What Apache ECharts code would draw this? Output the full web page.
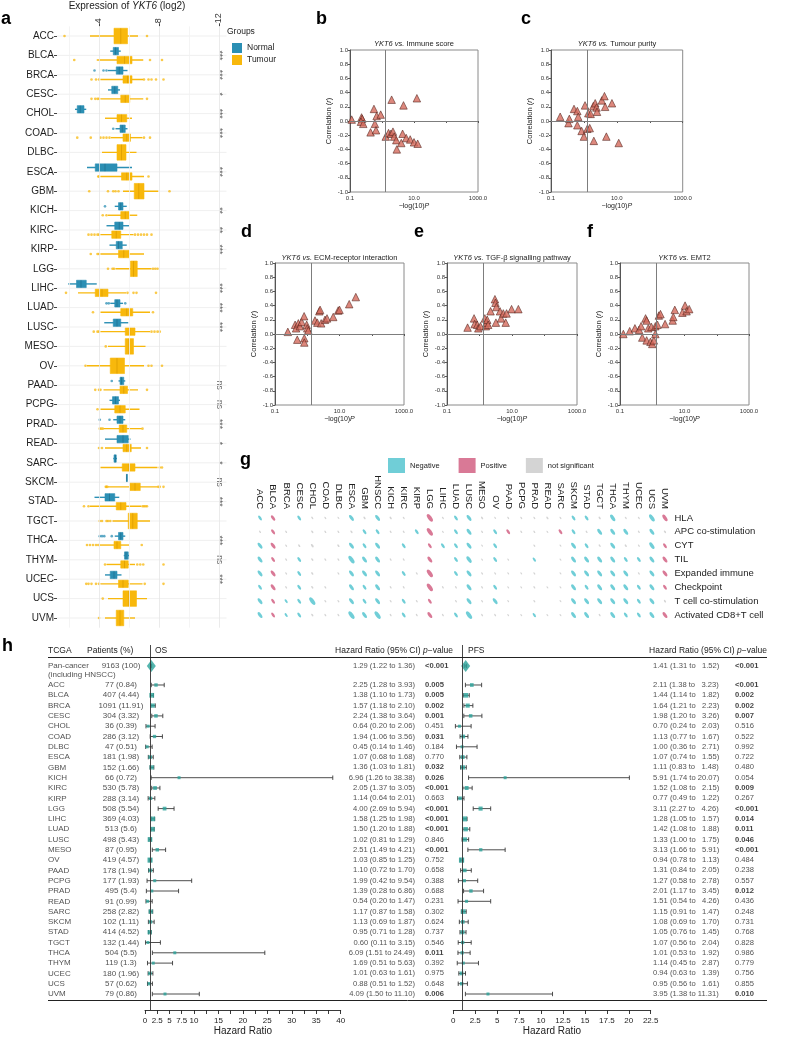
<!DOCTYPE html>
<html><head><meta charset="utf-8">
<script src="https://cdn.jsdelivr.net/npm/echarts@6/dist/echarts.min.js"></script>
<style>html,body{margin:0;padding:0;background:#fff}#c{width:800px;height:1037px}</style>
</head><body><div id="c"></div>
<script>
// ---------- Panel a : expression boxplots ----------
const aCats = ['ACC','BLCA','BRCA','CESC','CHOL','COAD','DLBC','ESCA','GBM','KICH','KIRC','KIRP','LGG','LIHC','LUAD','LUSC','MESO','OV','PAAD','PCPG','PRAD','READ','SARC','SKCM','STAD','TGCT','THCA','THYM','UCEC','UCS','UVM'];
const aNormal = [null,[4.75,4.95,5.1,5.3,5.45],[4.6,5.15,5.35,5.6,5.9],[4.6,4.85,5.05,5.25,5.4],[2.4,2.55,2.75,3.0,3.15],[5.1,5.4,5.55,5.75,5.9],null,[3.2,3.75,4.4,5.2,6.2],null,[5.05,5.3,5.45,5.6,5.85],[4.5,5.05,5.35,5.6,6.0],[4.7,5.15,5.3,5.55,5.85],null,[1.95,2.5,2.8,3.15,3.85],[4.75,5.05,5.2,5.4,5.6],[4.35,4.95,5.2,5.45,5.95],null,null,[5.3,5.4,5.5,5.65,5.75],[4.7,4.9,5.1,5.3,5.4],[4.95,5.2,5.4,5.6,5.75],[4.4,5.2,5.6,5.95,6.1],[4.95,5.0,5.1,5.15,5.2],[5.82,5.83,5.84,5.85,5.86],[3.7,4.4,4.7,5.05,5.35],null,[5.05,5.3,5.45,5.6,5.75],[5.65,5.7,5.8,5.95,6.0],[4.4,4.75,5.0,5.2,5.5],null,null];
const aNormalOut = [[],[],[3.7,4.3,4.5],[],[],[4.95],[],[],[],[4.4],[],[],[],[],[4.5,4.65,5.75],[],[],[],[4.85],[],[4.05,4.7],[],[],[],[],[],[4.05,4.2,4.35,4.85],[],[],[],[]];
const aTumour = [[3.4,5.0,5.45,5.9,6.6],[3.85,5.2,5.7,6.2,6.95],[4.1,5.6,5.9,6.2,6.95],[4.1,5.45,5.75,6.05,6.95],[4.4,5.2,5.5,5.85,6.2],[4.8,5.6,5.85,6.1,6.9],[4.2,5.2,5.5,5.8,6.5],[4.1,5.5,5.85,6.2,7.0],[5.6,6.35,6.65,7.0,7.95],[4.6,5.45,5.75,6.0,6.55],[4.1,4.85,5.15,5.45,6.3],[4.1,5.3,5.65,6.0,7.0],[5.1,6.1,6.3,6.55,7.5],[2.6,3.75,4.2,4.6,5.8],[4.1,5.45,5.85,6.25,7.4],[4.1,5.75,6.05,6.4,7.4],[4.6,5.75,6.0,6.3,7.1],[3.2,4.75,5.2,5.7,7.0],[4.3,5.4,5.65,5.9,6.6],[4.1,5.05,5.4,5.75,6.7],[4.3,5.35,5.6,5.85,6.85],[4.4,5.6,5.85,6.15,6.8],[4.1,5.55,6.0,6.4,7.9],[4.6,6.05,6.4,6.75,7.9],[3.4,5.15,5.45,5.8,6.8],[4.9,5.95,6.25,6.55,7.4],[4.05,5.0,5.2,5.45,6.0],[4.5,5.45,5.7,5.95,6.4],[4.1,5.3,5.6,5.95,6.9],[4.6,5.6,6.0,6.5,7.2],[4.4,5.15,5.4,5.65,6.4]];
const aTumourOut = [[1.7,7.2],[2.35,7.4,8.2],[3.5,3.8,4.0,7.0,7.3,7.5,7.8,8.3],[3.5,3.75,3.9,4.0,7.2],[],[2.55,3.45,4.1,4.3,4.5,4.7,7.0,7.4],[],[3.95,4.0,7.3],[3.35,4.6,4.95,5.1,5.3,8.7],[4.25,4.5],[3.3,3.5,3.7,3.9,4.0,6.4,6.6,6.8,7.0,7.2,7.5],[3.45,3.9,4.0],[4.6,4.9,5.0,7.6,7.75,7.9],[1.8,5.9,6.3,6.5,7.8],[3.6,7.6],[3.65,3.9,4.0,7.5,7.7,7.9,8.05],[4.45],[3.1,7.3,7.5,8.2],[3.75,4.0,4.1,7.2],[3.9],[4.05,4.15,4.25,6.9],[4.0,4.2,7.2],[8.05,8.2],[4.45,4.5,4.55,7.95,8.05,8.3],[3.0,3.3,6.9,7.0,7.1,7.2],[4.05,4.2,4.5,4.6,4.75],[3.2,3.4,3.6,3.8,3.95,6.85],[4.4,6.55,6.75,6.95,8.3],[3.15,3.3,3.5,3.8,4.0,7.05,8.3],[4.25],[4.0]];
const aSig = ['','***','***','*','***','***','','***','','**','**','***','','***','***','***','','','ns','ns','***','*','*','ns','***','','***','ns','***','',''];
const aTicks = [4, 8, 12];

// ---------- Panels b-f : correlation vs -log10 P ----------
const immuneScore = [[0.113,0.02],[0.23,0.05],[0.24,0.03],[0.22,-0.01],[0.26,-0.04],[0.44,-0.16],[0.56,0.17],[0.60,-0.04],[0.65,-0.13],[0.68,0.07],[0.91,0.09],[1.31,-0.22],[1.6,-0.17],[1.9,-0.18],[2.0,0.30],[2.2,-0.15],[2.4,-0.22],[2.8,-0.27],[2.9,-0.40],[4.0,-0.31],[4.4,-0.18],[4.7,0.22],[5.7,-0.24],[7.6,-0.26],[10,-0.30],[12.3,0.32],[13,-0.32]];
const tumourPurity = [[0.19,0.06],[0.34,-0.03],[0.36,0.03],[0.5,0.17],[0.63,0.14],[0.63,-0.06],[0.67,0.06],[0.85,-0.14],[1.0,-0.22],[1.08,0.22],[1.27,-0.11],[1.36,0.11],[1.5,-0.10],[1.6,0.10],[1.93,0.21],[2.0,-0.28],[2.2,0.25],[2.4,0.19],[2.5,0.13],[3.5,0.29],[4.2,0.35],[4.4,0.20],[4.8,-0.22],[7.1,0.25],[11.4,-0.31]];
const ecmReceptor = [[0.25,0.03],[0.42,0.13],[0.45,0.08],[0.49,-0.08],[0.53,0.15],[0.59,0.11],[0.67,0.17],[0.8,0.25],[0.81,-0.06],[0.81,-0.12],[0.96,0.13],[1.0,0.08],[1.08,0.05],[1.74,0.19],[2.05,0.16],[2.37,0.32],[2.5,0.34],[2.7,0.15],[3.55,0.20],[4.1,0.22],[6.4,0.24],[9.1,0.33],[10,0.34],[20,0.42],[32,0.52]];
const tgfBeta = [[0.43,0.09],[0.68,0.22],[0.71,0.14],[0.85,0.13],[0.92,0.08],[1.07,0.11],[1.46,0.22],[1.57,0.11],[1.65,0.16],[1.73,0.20],[1.85,0.13],[2.19,0.32],[2.98,0.49],[3.1,0.44],[3.3,0.38],[3.2,0.16],[4.27,0.32],[4.6,0.22],[5.4,0.29],[6.4,0.16],[6.8,0.29],[9.7,0.35],[15.7,0.35]];
const emt2 = [[0.127,0.0],[0.2,0.04],[0.29,0.08],[0.39,0.06],[0.45,0.11],[0.49,-0.05],[0.62,0.22],[0.67,0.19],[0.67,-0.09],[0.75,0.08],[0.88,-0.11],[0.94,0.10],[1.0,-0.14],[1.12,-0.09],[1.25,0.11],[1.25,0.0],[1.45,0.13],[1.6,0.26],[1.8,0.28],[2.5,0.14],[4.3,0.19],[4.5,0.24],[5.0,0.34],[8.6,0.30],[10.4,0.40],[11.6,0.32],[14,0.35]];
const pThresholdX = 1.3;

// ---------- Panel g : immune signature correlation ----------
const gCols = ['ACC','BLCA','BRCA','CESC','CHOL','COAD','DLBC','ESCA','GBM','HNSCC','KICH','KIRC','KIRP','LGG','LIHC','LUAD','LUSC','MESO','OV','PAAD','PCPG','PRAD','READ','SARC','SKCM','STAD','TGCT','THCA','THYM','UCEC','UCS','UVM'];
const gRows = ['HLA','APC co-stimulation','CYT','TIL','Expanded immune','Checkpoint','T cell co-stimulation','Activated CD8+T cell'];
const gR = [
 [-0.2,0.25,0,-0.2,0.1,0.08,0.06,-0.3,0.12,-0.3,0.12,0.08,0,0.45,0.08,-0.2,-0.3,0.12,0.06,0.08,0.08,0.08,0.12,0.08,-0.2,-0.2,0.12,-0.35,0.08,0.08,-0.4,0.35],
 [0.08,0.22,0.08,0,0.12,0.08,0.08,0.12,-0.2,-0.2,0.08,0.08,-0.2,0.45,0.06,-0.2,-0.3,0.08,-0.2,0.2,0.08,0.08,0.06,0.2,-0.2,0.08,-0.3,-0.3,-0.3,0.08,-0.3,0.12],
 [-0.3,0.3,0.08,0.12,0.2,0,0.12,-0.3,-0.2,-0.3,0,-0.2,0,0.2,-0.2,-0.2,-0.3,0.06,-0.2,0,0,0.08,0,0.06,-0.3,-0.2,0.1,-0.3,0.12,0.08,-0.35,0.2],
 [-0.3,0.2,0.08,-0.2,0.12,0.08,0.08,-0.45,-0.3,-0.3,0.08,0.08,0,0.3,0,-0.2,-0.35,0.06,-0.2,0.06,0,-0.15,0,0.06,-0.3,-0.3,-0.3,-0.3,-0.2,-0.2,-0.3,0.3],
 [-0.3,0.3,0.08,-0.2,0.12,0,0.08,-0.3,-0.3,-0.3,0,-0.2,0.08,0.45,0,-0.2,-0.3,0.08,0.08,0.06,0.06,0.08,0,0.06,-0.3,-0.3,-0.3,-0.3,-0.3,0.08,-0.3,0.3],
 [-0.2,0.3,0.08,-0.2,0.12,0.08,0,-0.3,-0.2,-0.3,0.08,0.08,0,0.45,0.08,0.08,-0.3,0.08,-0.2,0.06,0.06,0.08,0.06,0.06,-0.3,-0.2,-0.3,-0.3,-0.3,-0.2,-0.3,0.2],
 [-0.3,0.2,-0.12,-0.2,-0.45,0.08,0.08,-0.3,-0.2,-0.3,0.08,-0.2,0.08,0.2,0,0.08,-0.3,0.08,-0.3,0.06,0,0.08,0,0.06,-0.3,-0.3,-0.3,-0.3,-0.3,-0.2,-0.3,0.12],
 [-0.3,0.2,-0.12,-0.2,0.12,0.08,0.08,-0.45,-0.3,-0.45,0.08,-0.2,0.08,0.3,0.08,-0.2,-0.45,0.08,0.08,0.06,0.06,-0.15,0.06,0.06,-0.3,-0.3,0.08,-0.3,-0.2,-0.2,-0.3,0.3]
];
const gSig = [
 [1,1,0,1,0,0,0,1,0,1,0,0,0,1,0,1,1,0,0,0,0,0,0,0,1,1,0,1,0,0,1,1],
 [0,1,0,0,0,0,0,0,1,1,0,0,1,1,0,1,1,0,1,1,0,0,0,1,1,0,1,1,1,0,1,0],
 [1,1,0,0,0,0,0,1,1,1,0,1,0,1,1,1,1,0,1,0,0,0,0,0,1,1,0,1,0,0,1,1],
 [1,1,0,1,0,0,0,1,1,1,0,0,0,1,0,1,1,0,1,0,0,1,0,0,1,1,1,1,1,1,1,1],
 [1,1,0,1,0,0,0,1,1,1,0,1,0,1,0,1,1,0,0,0,0,0,0,0,1,1,1,1,1,0,1,1],
 [1,1,0,1,0,0,0,1,1,1,0,0,0,1,0,0,1,0,1,0,0,0,0,0,1,1,1,1,1,1,1,1],
 [1,1,1,1,1,0,0,1,1,1,0,1,0,1,0,0,1,0,1,0,0,0,0,0,1,1,1,1,1,1,1,0],
 [1,1,1,1,0,0,0,1,1,1,0,1,0,1,0,1,1,0,0,0,0,1,0,0,1,1,0,1,1,1,1,1]
];

// ---------- Panel h : forest plots ----------
const hPatients = [77,407,1091,304,36,286,47,181,152,66,530,288,508,369,513,498,87,419,178,177,495,91,258,102,414,132,504,119,180,57,79];
const hPct = [0.84,4.44,11.91,3.32,0.39,3.12,0.51,1.98,1.66,0.72,5.78,3.14,5.54,4.03,5.6,5.43,0.95,4.57,1.94,1.93,5.4,0.99,2.82,1.11,4.52,1.44,5.5,1.3,1.96,0.62,0.86];
const osHR = [2.25,1.38,1.57,2.24,0.64,1.94,0.45,1.07,1.36,6.96,2.05,1.14,4.00,1.58,1.50,1.02,2.51,1.03,1.10,1.99,1.39,0.54,1.17,1.13,0.95,0.60,6.09,1.69,1.01,0.88,4.09];
const osLo = [1.28,1.10,1.18,1.38,0.20,1.06,0.14,0.68,1.03,1.26,1.37,0.64,2.69,1.25,1.20,0.81,1.49,0.85,0.72,0.42,0.28,0.20,0.87,0.69,0.71,0.11,1.51,0.51,0.63,0.51,1.50];
const osHi = [3.93,1.73,2.10,3.64,2.06,3.56,1.46,1.68,1.81,38.38,3.05,2.01,5.94,1.98,1.88,1.29,4.21,1.25,1.70,9.54,6.86,1.47,1.58,1.87,1.28,3.15,24.49,5.63,1.61,1.52,11.10];
const osP = [0.005,0.005,0.002,0.001,0.451,0.031,0.184,0.770,0.032,0.026,0.0005,0.663,0.0005,0.0005,0.0005,0.846,0.0005,0.752,0.658,0.388,0.688,0.231,0.302,0.624,0.737,0.546,0.011,0.392,0.975,0.648,0.006];
const pfsHR = [2.11,1.44,1.64,1.98,0.70,1.13,1.00,1.07,1.11,5.91,1.52,0.77,3.11,1.28,1.42,1.33,3.13,0.94,1.31,1.27,2.01,1.51,1.15,1.08,1.05,1.07,1.01,1.14,0.94,0.95,3.95];
const pfsLo = [1.38,1.14,1.21,1.20,0.24,0.77,0.36,0.74,0.83,1.74,1.08,0.49,2.27,1.05,1.08,1.00,1.66,0.78,0.84,0.58,1.17,0.54,0.91,0.69,0.76,0.56,0.53,0.45,0.63,0.56,1.38];
const pfsHi = [3.23,1.82,2.23,3.26,2.03,1.67,2.71,1.55,1.48,20.07,2.15,1.22,4.26,1.57,1.88,1.75,5.91,1.13,2.05,2.78,3.45,4.26,1.47,1.70,1.45,2.04,1.92,2.87,1.39,1.61,11.31];
const pfsP = [0.0005,0.002,0.002,0.007,0.516,0.522,0.992,0.722,0.480,0.054,0.009,0.267,0.0005,0.014,0.011,0.046,0.0005,0.484,0.238,0.557,0.012,0.436,0.248,0.731,0.768,0.828,0.986,0.779,0.756,0.855,0.010];
const panPatients = 9163, panPct = 100;
const panOS = [1.29, 1.22, 1.36], panOSP = 0.0005;
const panPFS = [1.41, 1.31, 1.52], panPFSP = 0.0005;

// ---------- rendering ----------
const FONT = 'Liberation Sans';
const TEAL = '#2B8FB4', TEAL_D = '#1E6F8E', YEL = '#F8B80C', YEL_D = '#D99A00';
const NEG = '#4CC2CD', POS = '#CF587C', NS = '#C9C9C9';
const FOREST = '#2BA39A';
const chart = echarts.init(document.getElementById('c'), null, {renderer: 'canvas'});

function txt(x, y, text, size, extra) {
  return {type: 'text', x: x, y: y, silent: true, z: 50, style: Object.assign({
    text: text, fontSize: size, fontFamily: FONT, fill: '#222', align: 'left', verticalAlign: 'middle',
    textAlign: 'left', textVerticalAlign: 'middle',
    rich: {i: {fontStyle: 'italic', fontSize: size, fontFamily: FONT, fill: '#222'},
           n: {fontSize: size, fontFamily: FONT, fill: '#222'}}
  }, extra || {})};
}
function letter(x, y, t) { return txt(x, y, t, 18, {fontWeight: 'bold', fill: '#000'}); }

function boxRender(kind) {
  return function (params, api) {
    const i = api.value(0);
    const paired = aNormal[i] != null;
    const band = api.size([0, 1])[1];
    const off = paired ? (kind === 'N' ? -0.22 : 0.24) * band : 0;
    const h = paired ? 0.38 * band : 0.8 * band;
    const yc = api.coord([5, i])[1] + off;
    const px = v => api.coord([v, i])[0];
    const lo = px(api.value(1)), q1 = px(api.value(2)), md = px(api.value(3)), q3 = px(api.value(4)), hi = px(api.value(5));
    const col = kind === 'N' ? TEAL : YEL, dcol = kind === 'N' ? TEAL_D : YEL_D;
    const outs = (kind === 'N' ? aNormalOut : aTumourOut)[i];
    const ch = [
      {type: 'line', shape: {x1: lo, y1: yc, x2: hi, y2: yc}, style: {stroke: col, lineWidth: 1.4}},
      {type: 'rect', shape: {x: q1, y: yc - h / 2, width: Math.max(q3 - q1, 1), height: h}, style: {fill: col, stroke: col, lineWidth: 0.6}},
      {type: 'line', shape: {x1: md, y1: yc - h / 2, x2: md, y2: yc + h / 2}, style: {stroke: dcol, lineWidth: 0.7}}
    ];
    outs.forEach(v => ch.push({type: 'circle', shape: {cx: px(v), cy: yc, r: 1.3}, style: {fill: col, opacity: 0.75}}));
    return {type: 'group', children: ch};
  };
}

function scX(gi) {
  return {type: 'log', gridIndex: gi, logBase: 10, min: 0.1, max: 1000,
    axisLine: {show: true, lineStyle: {color: '#555', width: 1}},
    axisTick: {show: true, length: 2, lineStyle: {color: '#555'}},
    axisLabel: {fontSize: 6, color: '#333', margin: 3, fontFamily: FONT,
      formatter: v => { const e = Math.round(Math.log10(v)); return (e === -1 || e === 1 || e === 3) ? v.toFixed(1) : ''; }},
    splitLine: {show: false},
    name: '−log(10){i|P}', nameLocation: 'middle', nameGap: 11,
    nameTextStyle: {fontSize: 7, color: '#222', fontFamily: FONT, rich: {i: {fontStyle: 'italic', fontSize: 7, color: '#222', fontFamily: FONT}}}};
}
function scY(gi) {
  return {type: 'value', gridIndex: gi, min: -1, max: 1, interval: 0.2,
    axisLine: {show: true, lineStyle: {color: '#555', width: 1}},
    axisTick: {show: true, length: 2, lineStyle: {color: '#555'}},
    axisLabel: {fontSize: 6, color: '#333', margin: 2, fontFamily: FONT, formatter: v => (Math.abs(v) < 1e-9 ? 0 : v).toFixed(1)},
    splitLine: {show: false},
    name: 'Correlation ({i|r})', nameLocation: 'middle', nameGap: 17, nameRotate: 90,
    nameTextStyle: {fontSize: 7.5, color: '#222', fontFamily: FONT, rich: {i: {fontStyle: 'italic', fontSize: 7.5, color: '#222', fontFamily: FONT}}}};
}
function scSeries(gi, data) {
  return {type: 'scatter', xAxisIndex: gi, yAxisIndex: gi, data: data, symbol: 'triangle', symbolSize: 7.5, z: 3,
    itemStyle: {color: '#D56A5C', borderColor: '#4f2019', borderWidth: 0.7},
    markLine: {silent: true, symbol: 'none', label: {show: false}, animation: false,
      lineStyle: {color: '#7d7d7d', width: 1, type: 'solid'},
      data: [{xAxis: pThresholdX}, {yAxis: 0}]}};
}

// panel g data split
const gNeg = [], gPos = [], gNs = [];
gR.forEach((row, ri) => row.forEach((r, ci) => {
  if (r === 0) return;
  const item = [ci, ri, r];
  if (gSig[ri][ci]) (r < 0 ? gNeg : gPos).push(item); else gNs.push(item);
}));
const ELL = 'path://M0,50 A50,50 0 1,1 100,50 A50,50 0 1,1 0,50 Z';
const sigSize = v => { const a = Math.abs(v[2]); return [1.3 + 6 * a, 3 + 13 * a]; };
const nsSize = v => { const a = Math.abs(v[2]); return [1 + 5 * a, 2 + 10 * a]; };
function gSeries(name, data, color, sizeFn) {
  return {type: 'scatter', name: name, xAxisIndex: 6, yAxisIndex: 6, data: data, symbol: ELL,
    symbolSize: sizeFn, symbolRotate: 35, itemStyle: {color: color}};
}

// panel h helpers
const fmt2 = v => v.toFixed(2);
const pText = p => { const s = p < 0.001 ? '<0.001' : p.toFixed(3); return p < 0.05 ? '{b|' + s + '}' : s; };
const osHRText = (h, l, u) => `${fmt2(h)} (${fmt2(l)} to ${fmt2(u)})`;
const pfsHRText = (h, l, u) => `${fmt2(h)} (${fmt2(l)} to ${u < 10 ? '  ' : ''}${fmt2(u)})`;
const PAN_ROW = -1.85, PAN_ROW2 = -0.95;
const H_YMIN = -3.883, H_YMAX = 31.553;
function textSeries(x, items, align, size) {
  const pos = align === 'left' ? 'right' : (align === 'right' ? 'left' : 'inside');
  return {type: 'scatter', xAxisIndex: 7, yAxisIndex: 7, symbolSize: 0, silent: true, z: 5,
    data: items.map(it => ({name: it[1], value: [x, it[0]]})),
    itemStyle: {color: 'rgba(0,0,0,0)'},
    label: {show: true, position: pos, distance: 0, formatter: p => p.name, fontSize: size, fontFamily: FONT, color: '#1e1e1e',
      rich: {b: {fontWeight: 'bold', fontSize: size, fontFamily: FONT, color: '#111'}}},
    labelLayout: {hideOverlap: false}};
}
const rowsIdx = aCats.map((c, i) => i);
const ciSize = (l, u) => Math.max(3, Math.min(6.5, 2.5 + 1.0 / Math.log(u / l)));
function ciRender(params, api) {
  const a = api.coord([api.value(0), api.value(2)]);
  const b = api.coord([api.value(1), api.value(2)]);
  const st = {stroke: '#3a3a3a', lineWidth: 0.9};
  return {type: 'group', children: [
    {type: 'line', shape: {x1: a[0], y1: a[1], x2: b[0], y2: b[1]}, style: st},
    {type: 'line', shape: {x1: a[0], y1: a[1] - 2.2, x2: a[0], y2: a[1] + 2.2}, style: st},
    {type: 'line', shape: {x1: b[0], y1: b[1] - 2.2, x2: b[0], y2: b[1] + 2.2}, style: st}
  ]};
}
function forestX(gi, max, labelFn) {
  return {type: 'value', gridIndex: gi, min: 0, max: max, interval: 2.5,
    axisLine: {show: true, onZero: false, lineStyle: {color: '#222', width: 0.9}},
    axisTick: {show: true, length: 4, lineStyle: {color: '#222', width: 0.9}},
    axisLabel: {fontSize: 8, color: '#222', margin: 7, fontFamily: FONT, formatter: labelFn, hideOverlap: false},
    splitLine: {show: false},
    name: 'Hazard Ratio', nameLocation: 'middle', nameGap: 16, nameTextStyle: {fontSize: 10, color: '#222', fontFamily: FONT}};
}
const hY = gi => ({type: 'value', gridIndex: gi, min: H_YMIN, max: H_YMAX, inverse: true, show: false});
function forestSeries(gi, hr, lo, hi, pan) {
  return [
    {type: 'custom', xAxisIndex: gi, yAxisIndex: gi, renderItem: ciRender, z: 3, silent: true,
      encode: {x: [0, 1], y: 2},
      data: rowsIdx.map(i => [lo[i], hi[i], i]).concat([[pan[1], pan[2], PAN_ROW]])},
    {type: 'scatter', xAxisIndex: gi, yAxisIndex: gi, z: 4, silent: true, symbol: 'rect',
      itemStyle: {color: FOREST},
      data: rowsIdx.map(i => ({value: [hr[i], i], symbolSize: ciSize(lo[i], hi[i])})),
      markLine: {silent: true, symbol: 'none', label: {show: false}, animation: false,
        lineStyle: {color: '#333', width: 0.9, type: 'solid'}, data: [{xAxis: 1}]}},
    {type: 'scatter', xAxisIndex: gi, yAxisIndex: gi, z: 4, silent: true, symbol: 'diamond', symbolSize: [9, 12],
      itemStyle: {color: FOREST}, data: [[pan[0], PAN_ROW]]}
  ];
}

const option = {
  animation: false,
  backgroundColor: '#fff',
  textStyle: {fontFamily: FONT},
  grid: [
    {left: 57, right: 573.5, top: 26.3, bottom: 409.3, outerBoundsMode: 'none'},
    {left: 350, right: 322, top: 50, bottom: 845, show: true, borderColor: '#8a8a8a', borderWidth: 1, outerBoundsMode: 'none'},
    {left: 551, right: 117.3, top: 50, bottom: 845, show: true, borderColor: '#8a8a8a', borderWidth: 1, outerBoundsMode: 'none'},
    {left: 275, right: 396, top: 263, bottom: 632, show: true, borderColor: '#8a8a8a', borderWidth: 1, outerBoundsMode: 'none'},
    {left: 447, right: 223, top: 263, bottom: 632, show: true, borderColor: '#8a8a8a', borderWidth: 1, outerBoundsMode: 'none'},
    {left: 620, right: 51, top: 263, bottom: 632, show: true, borderColor: '#8a8a8a', borderWidth: 1, outerBoundsMode: 'none'},
    {left: 253.5, right: 128.5, top: 511, bottom: 415, outerBoundsMode: 'none'},
    {left: 0, right: 0, top: 645, bottom: 27, outerBoundsMode: 'none'},
    {left: 145, right: 459.3, top: 645, bottom: 27, outerBoundsMode: 'none'},
    {left: 453.3, right: 149.3, top: 645, bottom: 27, outerBoundsMode: 'none'}
  ],
  xAxis: [
    {type: 'value', gridIndex: 0, position: 'top', min: 1.2, max: 12.5,
      axisLine: {show: false}, splitLine: {show: false},
      axisTick: {show: true, length: 3, customValues: aTicks, lineStyle: {color: '#444'}},
      axisLabel: {customValues: aTicks, rotate: -90, fontSize: 9, margin: 3, color: '#333', fontFamily: FONT,
        formatter: v => aTicks.indexOf(v) >= 0 ? String(v) : ''}},
    scX(1), scX(2), scX(3), scX(4), scX(5),
    {type: 'category', gridIndex: 6, position: 'top', data: gCols,
      axisLine: {show: false}, axisTick: {show: false},
      axisLabel: {rotate: 90, fontSize: 9.5, margin: 2, interval: 0, color: '#222', fontFamily: FONT}},
    {type: 'value', gridIndex: 7, min: 0, max: 800, show: false},
    forestX(8, 40, v => (v <= 10 || Math.abs(v % 5) < 1e-9) ? String(v) : ''),
    forestX(9, 22.5, v => String(v))
  ],
  yAxis: [
    {type: 'category', gridIndex: 0, data: aCats, inverse: true,
      axisLine: {show: false}, axisTick: {show: true, length: 3, alignWithLabel: true, lineStyle: {color: '#444'}},
      axisLabel: {fontSize: 10, color: '#1e1e1e', margin: 3, interval: 0, fontFamily: FONT}, splitLine: {show: false}},
    scY(1), scY(2), scY(3), scY(4), scY(5),
    {type: 'category', gridIndex: 6, data: gRows, inverse: true, position: 'right',
      axisLine: {show: false}, axisTick: {show: false},
      axisLabel: {fontSize: 9.5, margin: 3, interval: 0, color: '#222', fontFamily: FONT}},
    hY(7), hY(8), hY(9)
  ],
  legend: [
    {data: ['Normal', 'Tumour'], left: 227, top: 38, orient: 'vertical', icon: 'rect',
      itemWidth: 10, itemHeight: 10, itemGap: 2, selectedMode: false,
      textStyle: {fontSize: 8.5, color: '#222', fontFamily: FONT}},
    {data: ['Negative', 'Positive', 'not significant'], left: 383, top: 453, orient: 'horizontal', icon: 'rect',
      itemWidth: 17, itemHeight: 15, itemGap: 19, selectedMode: false,
      textStyle: {fontSize: 7.5, color: '#222', fontFamily: FONT}}
  ],
  series: [
    // panel a gridlines
    {type: 'custom', xAxisIndex: 0, yAxisIndex: 0, silent: true, z: 1,
      encode: {x: 1, y: 0}, data: rowsIdx.map(i => [i, 5]),
      renderItem: (params, api) => {
        const y = api.coord([5, api.value(0)])[1];
        const cs = params.coordSys;
        return {type: 'line', shape: {x1: cs.x, y1: y, x2: cs.x + cs.width, y2: y}, style: {stroke: '#EBEBEB', lineWidth: 0.8}};
      },
      markLine: {silent: true, symbol: 'none', label: {show: false}, animation: false,
        data: [2, 4, 6, 8, 10, 12].map(v => ({xAxis: v, lineStyle: {color: v % 4 === 0 ? '#E6E6E6' : '#F1F1F1', width: 0.8, type: 'solid'}}))}},
    {type: 'custom', name: 'Normal', xAxisIndex: 0, yAxisIndex: 0, z: 3, itemStyle: {color: TEAL},
      encode: {x: [1, 2, 3, 4, 5], y: 0}, renderItem: boxRender('N'),
      data: rowsIdx.filter(i => aNormal[i]).map(i => [i].concat(aNormal[i]))},
    {type: 'custom', name: 'Tumour', xAxisIndex: 0, yAxisIndex: 0, z: 3, itemStyle: {color: YEL},
      encode: {x: [1, 2, 3, 4, 5], y: 0}, renderItem: boxRender('T'),
      data: rowsIdx.map(i => [i].concat(aTumour[i]))},
    {type: 'scatter', xAxisIndex: 0, yAxisIndex: 0, symbolSize: 0, silent: true, z: 4,
      data: rowsIdx.filter(i => aSig[i]).map(i => ({name: aSig[i], value: [12, i]})),
      label: {show: true, position: 'inside', rotate: -90, formatter: p => p.name, fontSize: 8.5, color: '#333', fontFamily: FONT}},
    // panels b-f
    scSeries(1, immuneScore), scSeries(2, tumourPurity), scSeries(3, ecmReceptor), scSeries(4, tgfBeta), scSeries(5, emt2),
    // panel g
    gSeries('Negative', gNeg, NEG, sigSize),
    gSeries('Positive', gPos, POS, sigSize),
    gSeries('not significant', gNs, NS, nsSize),
    // panel h text
    textSeries(48, rowsIdx.map(i => [i, aCats[i]]).concat([[PAN_ROW, 'Pan-cancer'], [PAN_ROW2, '(including HNSCC)']]), 'left', 8),
    textSeries(121, rowsIdx.map(i => [i, `${hPatients[i]} (${hPct[i]})`]).concat([[PAN_ROW, `${panPatients} (${panPct})`]]), 'center', 8),
    textSeries(415, rowsIdx.map(i => [i, osHRText(osHR[i], osLo[i], osHi[i])]).concat([[PAN_ROW, osHRText(panOS[0], panOS[1], panOS[2])]]), 'right', 7.6),
    textSeries(425, rowsIdx.map(i => [i, pText(osP[i])]).concat([[PAN_ROW, pText(panOSP)]]), 'left', 7.6),
    textSeries(653, rowsIdx.map(i => [i, pfsHRText(pfsHR[i], pfsLo[i], pfsHi[i])]).concat([[PAN_ROW, pfsHRText(panPFS[0], panPFS[1], panPFS[2])]]), 'left', 7.6),
    textSeries(735, rowsIdx.map(i => [i, pText(pfsP[i])]).concat([[PAN_ROW, pText(panPFSP)]]), 'left', 7.6)
  ].concat(forestSeries(8, osHR, osLo, osHi, panOS), forestSeries(9, pfsHR, pfsLo, pfsHi, panPFS)),
  graphic: [
    letter(1, 19, 'a'), letter(316, 19, 'b'), letter(521, 19, 'c'),
    letter(241, 232, 'd'), letter(414, 232, 'e'), letter(587, 232, 'f'),
    letter(240, 460, 'g'), letter(2, 646, 'h'),
    txt(127, 6, 'Expression of {i|YKT6} (log2)', 10, {align: 'center', textAlign: 'center'}),
    txt(227, 32, 'Groups', 8.5),
    txt(414, 44, '{i|YKT6 vs.} Immune score', 7.5, {align: 'center', textAlign: 'center'}),
    txt(617, 44, '{i|YKT6 vs.} Tumour purity', 7.5, {align: 'center', textAlign: 'center'}),
    txt(339.5, 258, '{i|YKT6 vs.} ECM-receptor interaction', 7.5, {align: 'center', textAlign: 'center'}),
    txt(512, 258, '{i|YKT6 vs.} TGF-β signalling pathway', 7.5, {align: 'center', textAlign: 'center'}),
    txt(684.5, 258, '{i|YKT6 vs.} EMT2', 7.5, {align: 'center', textAlign: 'center'}),
    txt(48, 651, 'TCGA', 8.5), txt(87, 651, 'Patients (%)', 8.5), txt(155, 651, 'OS', 8.5),
    txt(453, 651, 'Hazard Ratio (95% CI) {i|p}−value', 8.5, {align: 'right', textAlign: 'right'}),
    txt(468, 651, 'PFS', 8.5),
    txt(767, 651, 'Hazard Ratio (95% CI) {i|p}−value', 8.5, {align: 'right', textAlign: 'right'}),
    {type: 'line', silent: true, z: 50, shape: {x1: 48, y1: 657.5, x2: 767, y2: 657.5}, style: {stroke: '#222', lineWidth: 1}},
    {type: 'line', silent: true, z: 50, shape: {x1: 48, y1: 1000.5, x2: 767, y2: 1000.5}, style: {stroke: '#222', lineWidth: 1}}
  ]
};
chart.setOption(option);
</script></body></html>
